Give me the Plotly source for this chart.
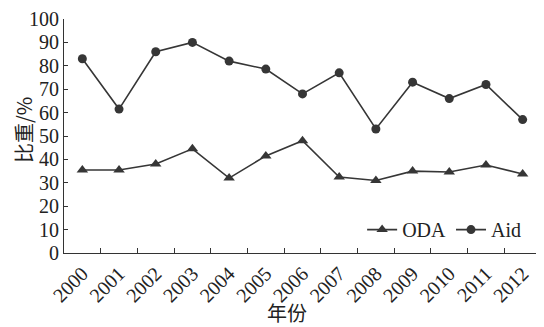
import plotly.graph_objects as go

years = [str(y) for y in range(2000, 2013)]
oda = [35.5, 35.5, 38, 44.5, 32, 41.5, 48, 32.5, 31, 35, 34.6, 37.6, 33.8]
aid = [83, 61.5, 86, 90, 82, 78.6, 68, 77, 53, 73, 66, 72, 57]

col = "#363636"
serif = "Liberation Serif"
cjk = "Noto Sans CJK SC"

fig = go.Figure()
fig.add_trace(go.Scatter(x=years, y=oda, name="ODA", mode="lines+markers",
                         line=dict(color=col, width=1.6),
                         marker=dict(symbol="triangle-up", size=10, color=col)))
fig.add_trace(go.Scatter(x=years, y=aid, name="Aid", mode="lines+markers",
                         line=dict(color=col, width=1.6),
                         marker=dict(symbol="circle", size=9, color=col)))

# page body has an 8px margin, so the figure is sized to fit the 544x327 window
fig.update_layout(
    width=536, height=319,
    margin=dict(l=56, r=3, t=11, b=74, autoexpand=False),
    plot_bgcolor="white", paper_bgcolor="white",
    font=dict(family=serif, size=20, color="#222"),
    showlegend=True,
    legend=dict(orientation="h", x=0.625, y=0.10, xanchor="left", yanchor="middle",
                font=dict(family=serif, size=20, color="#222"),
                bgcolor="rgba(0,0,0,0)", itemwidth=30, tracegroupgap=0),
    annotations=[
        dict(text="年份", xref="paper", yref="paper", x=(287 - 64) / 477, y=-(312 - 253) / 234,
             showarrow=False, xanchor="center", yanchor="middle",
             font=dict(family=cjk, size=20, color="#222")),
        dict(text="比重/%", xref="paper", yref="paper", x=-(64 - 23) / 477, y=(253 - 130) / 234,
             showarrow=False, xanchor="center", yanchor="middle", textangle=-90,
             font=dict(family=cjk, size=20, color="#222")),
    ],
)
fig.update_xaxes(type="category", range=[-0.5, 12.5], showline=True, linecolor="#333",
                 linewidth=1.2, ticks="inside", tickson="boundaries", ticklen=5,
                 tickcolor="#333", tickangle=-45, showgrid=False, zeroline=False,
                 automargin=False, tickfont=dict(family=serif, size=20))
fig.update_yaxes(range=[0, 100], dtick=10, showline=True, linecolor="#333",
                 linewidth=1.2, ticks="inside", ticklen=4, tickcolor="#333",
                 showgrid=False, zeroline=False, automargin=False,
                 tickfont=dict(family=serif, size=20))

fig.write_html("out.html")
